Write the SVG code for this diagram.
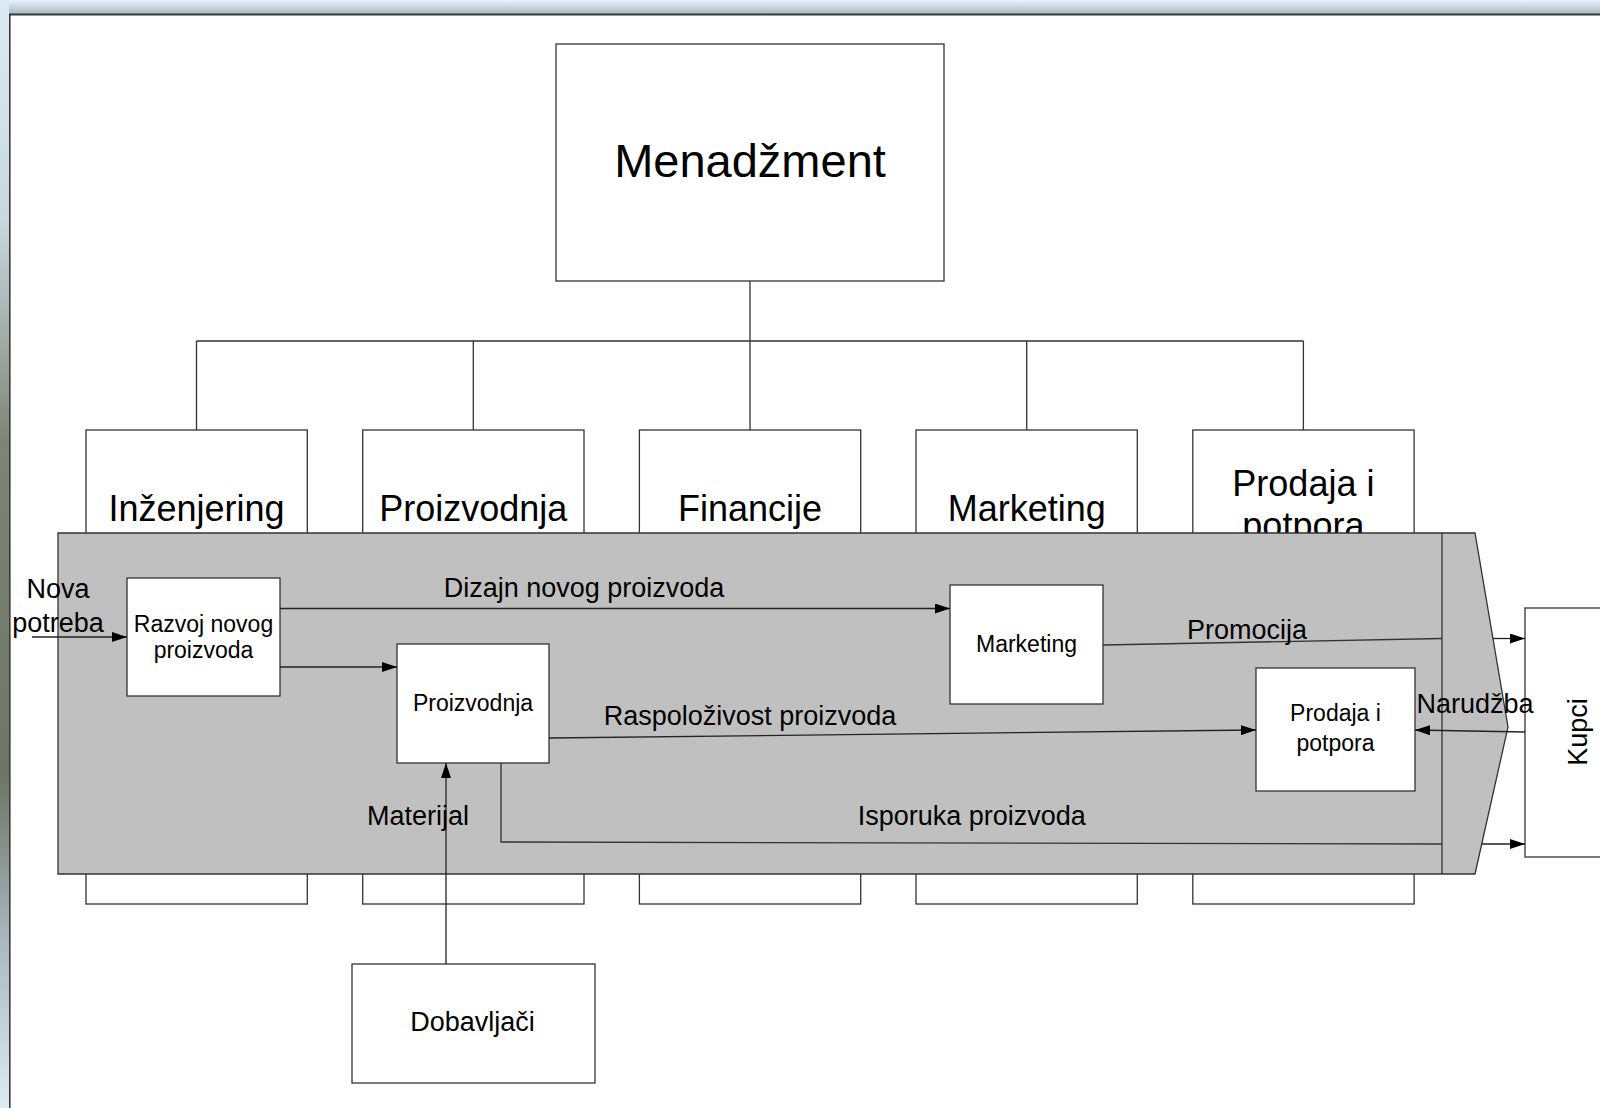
<svg xmlns="http://www.w3.org/2000/svg" width="1600" height="1108" viewBox="0 0 1600 1108">
<defs>
<linearGradient id="topbar" x1="0" y1="0" x2="0" y2="1">
<stop offset="0" stop-color="#e6f3fa"/>
<stop offset="1" stop-color="#a7b9c6"/>
</linearGradient>
<linearGradient id="leftbar" x1="0" y1="0" x2="0" y2="1">
<stop offset="0" stop-color="#dcebf4"/>
<stop offset="0.2" stop-color="#c8d8de"/>
<stop offset="0.4" stop-color="#7d8574"/>
<stop offset="0.7" stop-color="#6d7565"/>
<stop offset="0.85" stop-color="#aab8bf"/>
<stop offset="1" stop-color="#dcebf4"/>
</linearGradient>
<marker id="arr" viewBox="0 0 15 10" refX="15" refY="5" markerWidth="15" markerHeight="10" markerUnits="userSpaceOnUse" orient="auto">
<path d="M0,0 L15,5 L0,10 Z" fill="#000"/>
</marker>
<style>
.box{fill:#fff;stroke:#333;stroke-width:1.3}
.ln{fill:none;stroke:#333;stroke-width:1.3}
.ar{fill:none;stroke:#222;stroke-width:1.3;marker-end:url(#arr)}
text{font-family:"Liberation Sans",Arial,sans-serif;fill:#000}
.big{font-size:47px;text-anchor:middle}
.dept{font-size:36px;text-anchor:middle}
.lbl{font-size:27px;text-anchor:middle}
.inner{font-size:23px;text-anchor:middle}
</style>
</defs>
<rect x="0" y="0" width="1600" height="1108" fill="#fff"/>
<rect x="0" y="0" width="1600" height="14" fill="url(#topbar)"/>
<rect x="0" y="0" width="9" height="1108" fill="url(#leftbar)"/>
<line x1="9" y1="14.5" x2="1600" y2="14.5" stroke="#3a3a3a" stroke-width="2"/>
<line x1="9.8" y1="14" x2="9.8" y2="1108" stroke="#3a3a3a" stroke-width="1.6"/>

<g id="menadzment">
<rect class="box" x="556" y="44" width="388" height="237"/>
<text class="big" x="750" y="177">Menadžment</text>
</g>

<g id="org-connectors">
<path class="ln" d="M750,281 V341 M196.5,341 H1303.4 M196.5,341 V430 M473.3,341 V430 M750,341 V430 M1026.7,341 V430 M1303.4,341 V430"/>
</g>

<g id="inzenjering">
<rect class="box" x="86" y="430" width="221.3" height="474"/>
<text class="dept" x="196.5" y="521">Inženjering</text>
</g>
<g id="proizvodnja-dept">
<rect class="box" x="362.7" y="430" width="221.3" height="474"/>
<text class="dept" x="473.3" y="521">Proizvodnja</text>
</g>
<g id="financije">
<rect class="box" x="639.4" y="430" width="221.3" height="474"/>
<text class="dept" x="750" y="521">Financije</text>
</g>
<g id="marketing-dept">
<rect class="box" x="916" y="430" width="221.3" height="474"/>
<text class="dept" x="1026.7" y="521">Marketing</text>
</g>
<g id="prodaja-dept">
<rect class="box" x="1192.8" y="430" width="221.3" height="474"/>
<text class="dept" x="1303.4" y="496">Prodaja i</text>
<text class="dept" x="1303.4" y="538">potpora</text>
</g>

<g id="value-chain">
<path d="M58,533 H1475 L1508,727 L1475,874 H58 Z" fill="#c0c0c0" stroke="#333" stroke-width="1.3"/>
<line class="ln" x1="1442" y1="533" x2="1442" y2="874"/>
</g>

<g id="razvoj">
<rect class="box" x="127" y="578" width="153" height="118"/>
<text class="inner" x="203.5" y="631.7">Razvoj novog</text>
<text class="inner" x="203.5" y="657.7">proizvoda</text>
</g>
<g id="proizvodnja">
<rect class="box" x="397" y="644" width="152" height="119"/>
<text class="inner" x="473" y="710.7">Proizvodnja</text>
</g>
<g id="marketing">
<rect class="box" x="950" y="585" width="153" height="119"/>
<text class="inner" x="1026.5" y="652">Marketing</text>
</g>
<g id="prodaja">
<rect class="box" x="1256" y="668" width="159" height="123"/>
<text class="inner" x="1335.5" y="721">Prodaja i</text>
<text class="inner" x="1335.5" y="751">potpora</text>
</g>
<g id="kupci">
<rect class="box" x="1525" y="608" width="90" height="249"/>
<text class="lbl" transform="translate(1587,732) rotate(-90)" x="0" y="0">Kupci</text>
</g>
<g id="dobavljaci">
<rect class="box" x="352" y="964" width="243" height="119"/>
<text class="lbl" x="472.5" y="1031">Dobavljači</text>
</g>

<g id="connectors">
<line class="ar" x1="32" y1="637" x2="127" y2="637"/>
<line class="ar" x1="280" y1="608.5" x2="950" y2="608.5"/>
<line class="ar" x1="280" y1="667" x2="397" y2="667"/>
<line class="ln" x1="1103" y1="645" x2="1442" y2="638.5"/>
<line class="ar" x1="1493" y1="638.5" x2="1525" y2="638.5"/>
<line class="ar" x1="549" y1="738" x2="1256" y2="730"/>
<path class="ln" d="M501,763 V842 L1442,844"/>
<line class="ar" x1="1482" y1="844" x2="1525" y2="844"/>
<line class="ar" x1="1525" y1="732" x2="1415" y2="730"/>
<line class="ar" x1="446" y1="964" x2="446" y2="763"/>
</g>

<g id="labels">
<text class="lbl" x="58" y="598">Nova</text>
<text class="lbl" x="58" y="631.7">potreba</text>
<text class="lbl" x="584" y="597.3">Dizajn novog proizvoda</text>
<text class="lbl" x="1247" y="639">Promocija</text>
<text class="lbl" x="750" y="725">Raspoloživost proizvoda</text>
<text class="lbl" x="1475" y="712.7">Narudžba</text>
<text class="lbl" x="418" y="825">Materijal</text>
<text class="lbl" x="971.7" y="825">Isporuka proizvoda</text>
</g>
</svg>
